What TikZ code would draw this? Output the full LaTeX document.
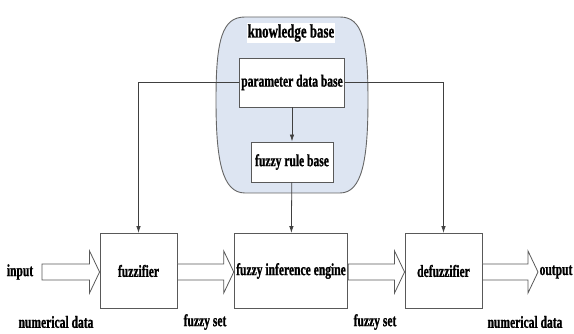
\documentclass[tikz,border=0pt]{standalone}
\usepackage{fontspec}
\setmainfont{Liberation Serif}[FakeStretch=0.68, BoldFeatures={FakeBold=1}]
\usepackage{tikz}
\usetikzlibrary{calc,arrows.meta}

\definecolor{kbfill}{RGB}{221,229,242}

\tikzset{
  box/.style={draw=black!65, line width=0.9pt, fill=white, inner sep=2pt},
  kbcloud/.style={draw=black!60, line width=0.9pt, fill=kbfill},
  fatline/.style={draw=black!65, line width=0.8pt, fill=white},
  link/.style={draw=black!75, line width=0.8pt, -{Latex[length=7pt,width=4.5pt]}},
  lbl/.style={inner sep=1pt}
}

% hollow block arrow from #1 to #2
\newcommand{\fatarrow}[2]{%
  \draw[fatline] ($(#1)+(0,-8)$) -- ($(#2)+(-10,-8)$) -- ($(#2)+(-10,-21)$) -- (#2)
    -- ($(#2)+(-10,21)$) -- ($(#2)+(-10,8)$) -- ($(#1)+(0,8)$) -- cycle;}

\begin{document}
\begin{tikzpicture}[x=1pt, y=-1pt, font=\fontsize{17}{17}\selectfont\bfseries]

  \useasboundingbox (0,0) rectangle (574,334);

  % knowledge base
  \draw[kbcloud] (245,17) -- (340,17) .. controls (362,17) and (368,40) .. (368,100)
    .. controls (368,160) and (362,193) .. (340,193) -- (245,193)
    .. controls (222,193) and (216,160) .. (216,100)
    .. controls (216,40) and (222,17) .. (245,17) -- cycle;
  \node[lbl, fill=white, font=\fontsize{19}{19}\selectfont\bfseries] (kb) at (291,33) {knowledge base};

  % links
  \node[box, minimum width=102pt, minimum height=49pt] (param) at (292,82.5) {parameter data base};
  \node[box, minimum width=82pt, minimum height=40pt] (rule) at (292,162) {fuzzy rule base};

  \node[box, minimum width=77pt, minimum height=75pt] (fuzz) at (138.5,271) {fuzzifier};
  \node[box, minimum width=112pt, minimum height=75pt] (engine) at (291,271) {fuzzy inference engine};
  \node[box, minimum width=77pt, minimum height=75pt] (defuzz) at (443.5,271) {defuzzifier};

  \draw[link] (param.west) -| (fuzz.north);
  \draw[link] (param.east) -| (defuzz.north);
  \draw[link] (param) -- (rule);
  \draw[link] (rule) -- (engine);

  % block arrows
  \node[lbl] (in) at (20,272) {input};
  \node[lbl] (out) at (556,272) {output};
  \coordinate (inA) at (42,272);
  \coordinate (outA) at (538,272);
  \fatarrow{inA}{fuzz.west |- inA}
  \fatarrow{fuzz.east |- inA}{engine.west |- inA}
  \fatarrow{engine.east |- inA}{defuzz.west |- inA}
  \fatarrow{defuzz.east |- inA}{outA}

  % signal names
  \node[lbl] (nd1) at (56,322) {numerical data};
  \node[lbl] (fs1) at (205,322) {fuzzy set};
  \node[lbl] (fs2) at (375,322) {fuzzy set};
  \node[lbl] (nd2) at (525,322) {numerical data};

\end{tikzpicture}
\end{document}
